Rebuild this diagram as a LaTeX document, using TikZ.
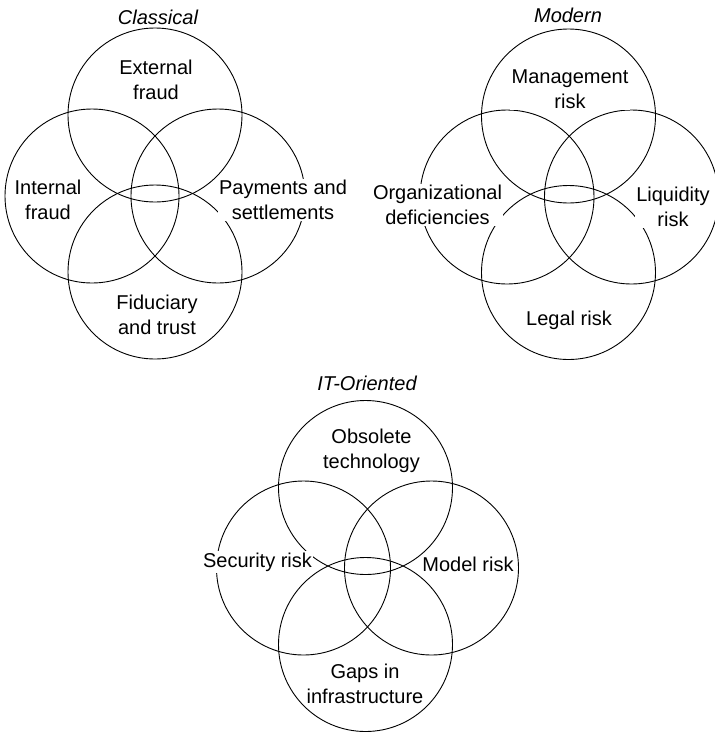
\documentclass[tikz,border=0pt]{standalone}
\usepackage{fontspec}
\setmainfont{Liberation Sans}
\begin{document}
\begin{tikzpicture}[x=1pt,y=-1pt,
  ring/.style={circle,draw,line width=0.9pt,minimum size=174pt,inner sep=0pt},
  lbl/.style={fill=white,inner sep=1.5pt,align=center,font=\fontsize{20}{25}\selectfont},
  ttl/.style={inner sep=0pt,font=\fontsize{20}{25}\selectfont\itshape}]
\useasboundingbox (0,0) rectangle (715,732);

% Classical
\node[ring] (c1) at (155,115) {};
\node[ring] (c2) at (92,196) {};
\node[ring] (c3) at (218,196) {};
\node[ring] (c4) at (155,272) {};
\node[ttl] (ct) at (158,17) {Classical};
\node[lbl] (c1l) at (156,80) {External\\fraud};
\node[lbl] (c2l) at (48,200) {Internal\\fraud};
\node[lbl] (c3l) at (283,200) {Payments and\\settlements};
\node[lbl] (c4l) at (157,315) {Fiduciary\\and trust};

% Modern
\node[ring] (m1) at (568.5,116) {};
\node[ring] (m2) at (507,197) {};
\node[ring] (m3) at (631.5,197) {};
\node[ring] (m4) at (568.5,272.5) {};
\node[ttl] (mt) at (568,15) {Modern};
\node[lbl] (m1l) at (570,89) {Management\\risk};
\node[lbl] (m2l) at (437.5,205) {Organizational\\deficiencies};
\node[lbl] (m3l) at (673,207) {Liquidity\\risk};
\node[lbl] (m4l) at (569,320) {Legal risk};

% IT-Oriented
\node[ring] (t1) at (365.5,487.5) {};
\node[ring] (t2) at (303.5,568) {};
\node[ring] (t3) at (431.5,568) {};
\node[ring] (t4) at (365.5,644.5) {};
\node[ttl] (tt) at (367,383) {IT-Oriented};
\node[lbl] (t1l) at (371.5,451) {Obsolete\\technology};
\node[lbl] (t2l) at (257.5,562) {Security risk};
\node[lbl] (t3l) at (468,564) {Model risk};
\node[lbl] (t4l) at (365,684) {Gaps in\\infrastructure};
\end{tikzpicture}
\end{document}
